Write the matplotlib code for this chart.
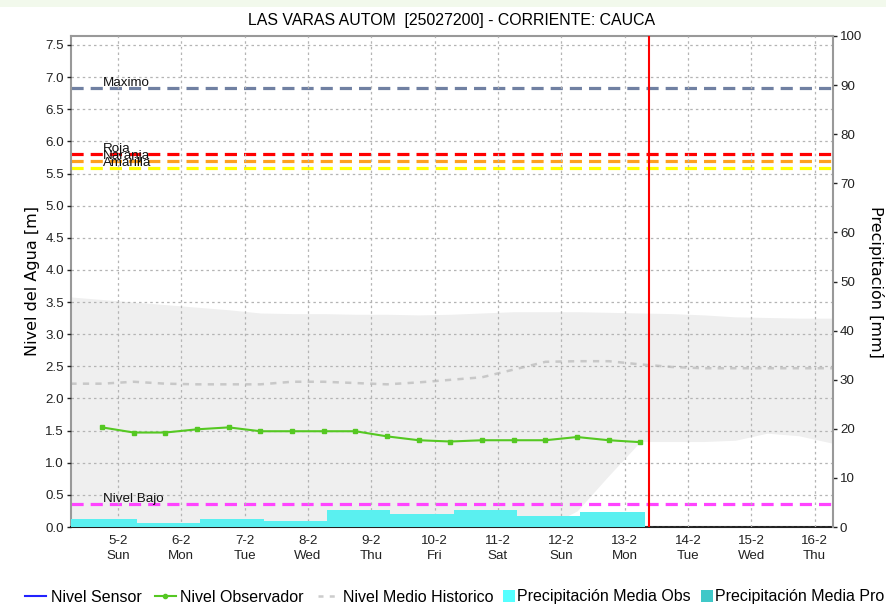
import matplotlib
matplotlib.use('Agg')
import matplotlib.pyplot as plt
from matplotlib.lines import Line2D
from matplotlib.patches import Rectangle, Patch

plt.rcParams['font.family'] = ['Liberation Sans', 'DejaVu Sans']

# x axis = day of February
day_ticks = [5, 6, 7, 8, 9, 10, 11, 12, 13, 14, 15, 16]
day_labels = ['5-2\nSun', '6-2\nMon', '7-2\nTue', '8-2\nWed', '9-2\nThu', '10-2\nFri',
              '11-2\nSat', '12-2\nSun', '13-2\nMon', '14-2\nTue', '15-2\nWed', '16-2\nThu']

# observed level (m)
obs_t = [4.75, 5.25, 5.75, 6.25, 6.75, 7.25, 7.75, 8.25, 8.75,
         9.25, 9.75, 10.25, 10.75, 11.25, 11.75, 12.25, 12.75, 13.25]
obs_level = [1.55, 1.47, 1.47, 1.52, 1.55, 1.49, 1.49, 1.49, 1.49,
             1.41, 1.35, 1.33, 1.35, 1.35, 1.35, 1.40, 1.35, 1.32]

# historical band and mean (m)
hist_t = [4.25, 4.75, 5.25, 5.75, 6.25, 6.75, 7.25, 7.75, 8.25, 8.75, 9.25, 9.75, 10.25,
          10.75, 11.25, 11.75, 12.25, 12.75, 13.25, 13.75, 14.25, 14.75, 15.25, 15.75, 16.3]
hist_mean = [2.23, 2.23, 2.26, 2.23, 2.22, 2.22, 2.22, 2.26, 2.26, 2.24, 2.22, 2.25, 2.29,
             2.33, 2.45, 2.57, 2.58, 2.58, 2.53, 2.49, 2.47, 2.47, 2.47, 2.47, 2.47]
hist_max = [3.58, 3.54, 3.50, 3.46, 3.42, 3.38, 3.33, 3.32, 3.32, 3.31, 3.31, 3.30, 3.31,
            3.33, 3.35, 3.35, 3.35, 3.34, 3.33, 3.32, 3.30, 3.27, 3.26, 3.25, 3.25]
hist_min = [0, 0, 0, 0, 0, 0, 0, 0, 0, 0, 0, 0, 0,
            0, 0, 0, 0.25, 0.80, 1.33, 1.33, 1.33, 1.35, 1.46, 1.42, 1.30]

# daily mean precipitation (mm)
rain_start = [4.26, 5.3, 6.3, 7.3, 8.3, 9.3, 10.3, 11.3, 12.3]
rain_end = [5.3, 6.3, 7.3, 8.3, 9.3, 10.3, 11.3, 12.3, 13.32]
rain_mm = [1.6, 0.9, 1.6, 1.3, 3.5, 2.6, 3.5, 2.3, 3.1]

# alert thresholds (m)
thr_names = ['Maximo', 'Roja', 'Naranja', 'Amarilla', 'Nivel Bajo']
thr_values = [6.83, 5.81, 5.69, 5.58, 0.36]
thr_colors = ['#7080a2', '#ff0000', '#ffa020', '#ffff00', '#ff44ff']

now_day = 13.38

fig = plt.figure(figsize=(8.86, 6.04), dpi=100)
fig.patches.append(Rectangle((0, 1 - 7 / 604), 1, 7 / 604, transform=fig.transFigure,
                             facecolor='#f2f9ec', edgecolor='none', zorder=-5))
ax = fig.add_axes([71 / 886, 1 - 527 / 604, (833 - 71) / 886, (527 - 36) / 604])
ax2 = ax.twinx()

# historical band + mean
ax.fill_between(hist_t, hist_min, hist_max, color='#efefef', lw=0, zorder=0.5)
ax.plot(hist_t, hist_mean, color='#c8c8c8', lw=1.8, dashes=(2.5, 2.5), zorder=2)

# thresholds
for name, val, col in zip(thr_names, thr_values, thr_colors):
    ax.axhline(val, color=col, lw=2.3, dashes=(3.8, 2.2), zorder=2.5)
    ax.annotate(name, xy=(4.76, val), xytext=(0, 1.5), textcoords='offset points',
                fontsize=9.6, va='baseline', ha='left', color='#111111', zorder=3)

ax.plot(obs_t, obs_level, color='#55c822', lw=1.5, marker='s', ms=3.3, zorder=3)
ax.axvline(now_day, color='#ff0000', lw=1.5, zorder=3)

# precipitation on right axis
widths = [e - s for s, e in zip(rain_start, rain_end)]
ax2.bar(rain_start, rain_mm, width=widths, align='edge', color='#5af0f0', lw=0, zorder=1)

ax.set_xlim(4.26, 16.29)
ax.set_ylim(0, 7.64)
ax2.set_ylim(0, 100)
ax.set_yticks([i * 0.5 for i in range(16)])
ax.set_yticklabels([f'{i * 0.5:.1f}' for i in range(16)])
ax2.set_yticks(range(0, 101, 10))
ax.set_xticks(day_ticks)
ax.set_xticklabels(day_labels, linespacing=1.25)

ax.grid(True, color='#b4b4b4', lw=0.9, dashes=(2, 2.5), zorder=1)
ax.set_axisbelow(False)

ax.tick_params(axis='x', length=0, pad=6, labelsize=9.6, colors='#222222')
ax.tick_params(axis='y', length=3, width=1, pad=2, labelsize=9.6, colors='#222222')
ax2.tick_params(axis='y', length=3, width=1, pad=2, labelsize=9.6, colors='#222222')

for sp in ['left', 'top']:
    ax.spines[sp].set_color('#999999')
    ax.spines[sp].set_linewidth(1.5)
ax.spines['right'].set_visible(False)
ax.spines['bottom'].set_color('#222222')
ax.spines['bottom'].set_linestyle((0, (1, 1)))
ax.spines['bottom'].set_linewidth(1.5)
for sp in ['left', 'top', 'bottom']:
    ax2.spines[sp].set_visible(False)
ax2.spines['right'].set_color('#999999')
ax2.spines['right'].set_linewidth(1.5)

ax.set_ylabel('Nivel del Agua [m]', fontsize=11.5, family='DejaVu Sans', labelpad=4)
ax2.set_ylabel('Precipitación [mm]', fontsize=11.5, family='DejaVu Sans',
               rotation=-90, labelpad=16)
ax.set_title('LAS VARAS AUTOM  [25027200] - CORRIENTE: CAUCA', fontsize=11.4, pad=8)

# legend: line entries and square entries use different handle widths
line_handles = [
    Line2D([], [], color='#2222ff', lw=1.5),
    Line2D([], [], color='#55c822', lw=1.5, marker='o', ms=3),
    Line2D([], [], color='#cccccc', lw=1.8, dashes=(2, 2.5)),
]
line_labels = ['Nivel Sensor', 'Nivel Observador', 'Nivel Medio Historico']
fig.legend(line_handles, line_labels, loc='center left', bbox_to_anchor=(25 / 886, 7 / 604),
           ncol=3, frameon=False, fontsize=11.5, handlelength=1.3, handletextpad=0.3,
           columnspacing=0.85, borderaxespad=0, borderpad=0)

box_handles = [Patch(facecolor='#55ffff', lw=0), Patch(facecolor='#40c8c8', lw=0)]
box_labels = ['Precipitación Media Obs', 'Precipitación Media Pro']
fig.legend(box_handles, box_labels, loc='center left', bbox_to_anchor=(503 / 886, 7 / 604),
           ncol=2, frameon=False, fontsize=11.5, handlelength=0.75, handleheight=0.75,
           handletextpad=0.15, columnspacing=0.6, borderaxespad=0, borderpad=0)

fig.savefig('out.png', dpi=100)
